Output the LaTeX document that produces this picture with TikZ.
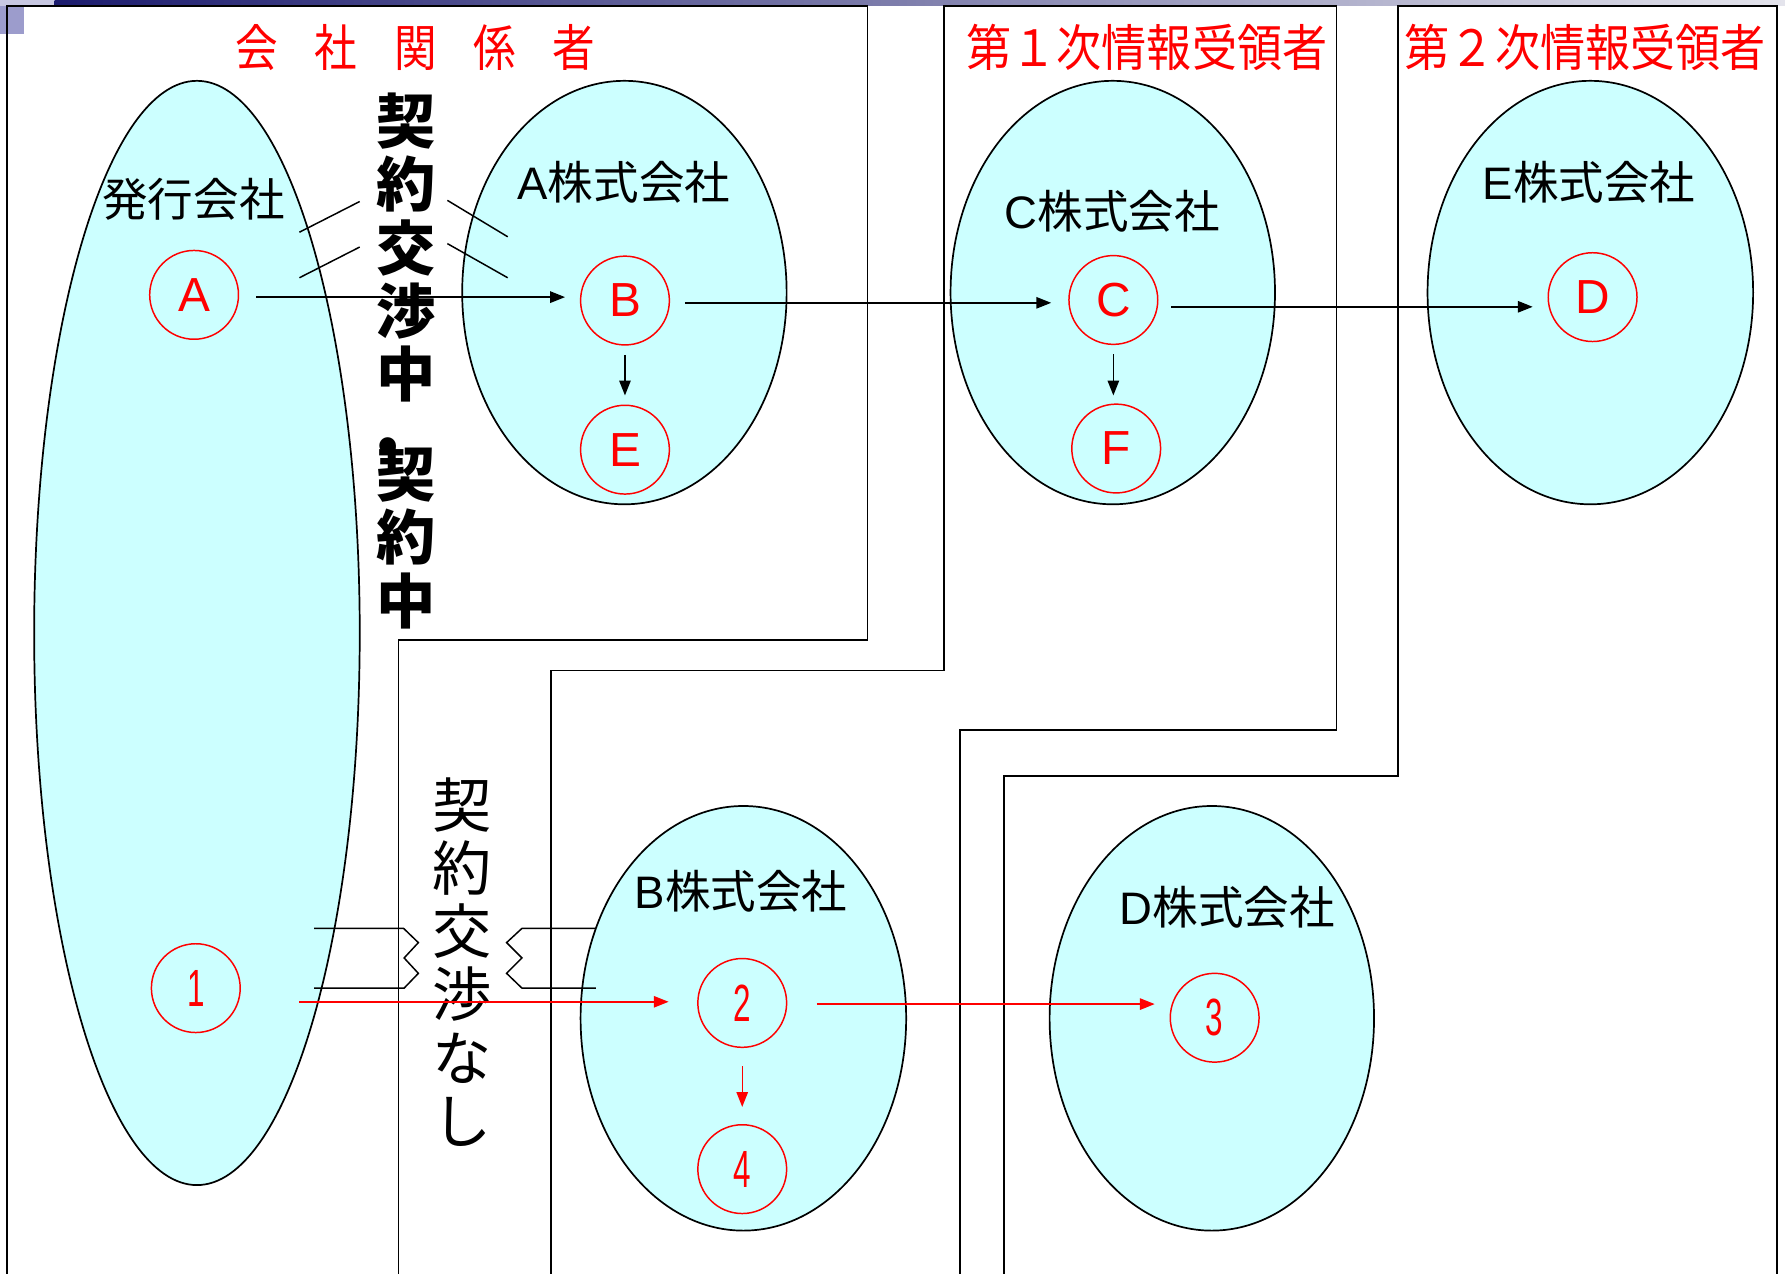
\documentclass[tikz,border=0pt]{standalone}
\usepackage{graphicx}
\usepackage{fontspec}
\setmainfont{Liberation Sans}
\newfontfamily\jp{Noto Sans CJK JP}
\usetikzlibrary{arrows.meta,shapes.geometric}
\definecolor{cyanfill}{HTML}{CCFFFF}
\definecolor{navy}{HTML}{1C1C6E}
\definecolor{barlight}{HTML}{E4E4EC}
\definecolor{lav}{HTML}{9C9CCC}
\definecolor{lavlight}{HTML}{C8C8E2}
\begin{document}
\begin{tikzpicture}[x=1pt,y=-1pt,
  region/.style={draw=black,line width=1.6pt},
  company/.style={ellipse,draw=black,line width=1.5pt,fill=cyanfill,inner sep=0pt},
  person/.style={circle,draw=red,line width=1.3pt,minimum size=78pt,inner sep=0pt,text=red,font=\fontsize{42}{42}\selectfont},
  numperson/.style={person,font=\fontsize{46}{46}\selectfont},
  cname/.style={inner sep=0pt,font=\jp\fontsize{40}{40}\selectfont},
  ttl/.style={inner sep=0pt,text=red,font=\jp\fontsize{44}{44}\selectfont},
  vtxt/.style={inner sep=0pt,align=center,font=\jp\bfseries\fontsize{52}{55.5}\selectfont},
  vtxtr/.style={inner sep=0pt,align=center,font=\jp\fontsize{52}{55.5}\selectfont},
  arr/.style={-{Triangle[length=13pt,width=10pt]},line width=1.3pt},
  rarr/.style={arr,red},
  slashmk/.style={draw=black,line width=1.3pt}
]
\useasboundingbox (0,0) rectangle (1568,1119);
% top decoration
\fill[lavlight] (0,0) rectangle (48,5);
\fill[lav] (0,5) rectangle (21,30);
\shade[left color=navy,right color=barlight] (48,0) rectangle (1568,5);
% regions
\draw[region] (6,1119) -- (6,5) -- (762,5) -- (762,562) -- (350,562) -- (350,1119);
\draw[region] (484,1119) -- (484,589) -- (829,589) -- (829,5) -- (1174,5) -- (1174,641) -- (843,641) -- (843,1119);
\draw[region] (882,1119) -- (882,682) -- (1228,682) -- (1228,5) -- (1561,5) -- (1561,1119);
% titles
\node[ttl] (t1) at (365,42) {\scalebox{0.85}[1]{会\hspace{38pt}社\hspace{38pt}関\hspace{38pt}係\hspace{38pt}者}};
\node[ttl] (t2) at (1007.5,42) {\scalebox{0.9}[1]{第１次情報受領者}};
\node[ttl] (t3) at (1392.5,42) {\scalebox{0.9}[1]{第２次情報受領者}};
% companies
\node[company,minimum width=286pt,minimum height=970pt] (issuer) at (173,556) {};
\node[company,minimum width=285pt,minimum height=372pt] (coA) at (548.5,257) {};
\node[company,minimum width=285pt,minimum height=372pt] (coC) at (977.5,257) {};
\node[company,minimum width=286pt,minimum height=372pt] (coE) at (1397,257) {};
\node[company,minimum width=286pt,minimum height=373pt] (coB) at (653,894.5) {};
\node[company,minimum width=285pt,minimum height=373pt] (coD) at (1064.5,894.5) {};
\node[cname] (lIssuer) at (170,175) {発行会社};
\node[cname] (lA) at (548,160) {{\rmfamily A}株式会社};
\node[cname] (lC) at (977,186) {{\rmfamily C}株式会社};
\node[cname] (lE) at (1396,160) {{\rmfamily E}株式会社};
\node[cname] (lB) at (651,783) {{\rmfamily B}株式会社};
\node[cname] (lD) at (1078,797) {{\rmfamily D}株式会社};
% persons
\node[person] (A) at (170.5,259) {A};
\node[person] (B) at (549,264) {B};
\node[person] (E) at (549,395) {E};
\node[person] (C) at (978,263.5) {C};
\node[person] (F) at (980.5,394) {F};
\node[person] (D) at (1399,261) {D};
\node[numperson] (n1) at (172,868) {\scalebox{0.6}[1]{1}};
\node[numperson] (n2) at (652,881) {\scalebox{0.6}[1]{2}};
\node[numperson] (n4) at (652,1027) {\scalebox{0.6}[1]{4}};
\node[numperson] (n3) at (1067,894) {\scalebox{0.6}[1]{3}};
% vertical texts
\node[vtxt] (v1) at (357,217.5) {契\\約\\交\\渉\\中};
\node[inner sep=0pt,font=\jp\bfseries\fontsize{52}{52}\selectfont] (vdot) at (341,398) {・};
\node[vtxt] (v2) at (357,472) {契\\約\\中};
\node[vtxtr] (v3) at (406,845) {契\\約\\交\\渉\\な\\し};
% marks
\draw[slashmk] (263,204) -- (316,177);
\draw[slashmk] (263,244) -- (316,217);
\draw[slashmk] (393,176) -- (446,208);
\draw[slashmk] (393,214) -- (446,244);
\draw[slashmk] (276,815.5) -- (354.5,815.5) -- (367.5,828) -- (355,841.5) -- (367.5,855) -- (355,868) -- (276,868);
\draw[slashmk] (523.5,815.5) -- (458.5,815.5) -- (445,828) -- (458.5,841.5) -- (445,855) -- (458.5,868) -- (523.5,868);
% arrows
\draw[arr,shorten <=15pt,shorten >=13pt] ([yshift=-2pt]A.east) -- ([yshift=-2pt]A.east -| B.west);
\draw[arr,shorten <=13pt,shorten >=15pt] ([yshift=-2pt]B.east) -- ([yshift=-2pt]B.east -| C.west);
\draw[arr,shorten <=11pt,shorten >=13pt] ([yshift=-6pt]C.east) -- ([yshift=-6pt]C.east -| D.west);
\draw[arr,shorten <=8pt,shorten >=8pt] (B.south) -- (E.north);
\draw[arr,shorten <=8pt,shorten >=7pt] (C.south) -- (C.south |- F.north);
\draw[rarr,shorten <=51pt,shorten >=25pt] ([yshift=-12pt]n1.east) -- ([yshift=-12pt]n1.east -| n2.west);
\draw[rarr,shorten <=26pt,shorten >=13pt] ([yshift=-1pt]n2.east) -- ([yshift=-1pt]n2.east -| n3.west);
\draw[rarr,shorten <=16pt,shorten >=15pt] (n2.south) -- (n4.north);
\end{tikzpicture}
\end{document}
